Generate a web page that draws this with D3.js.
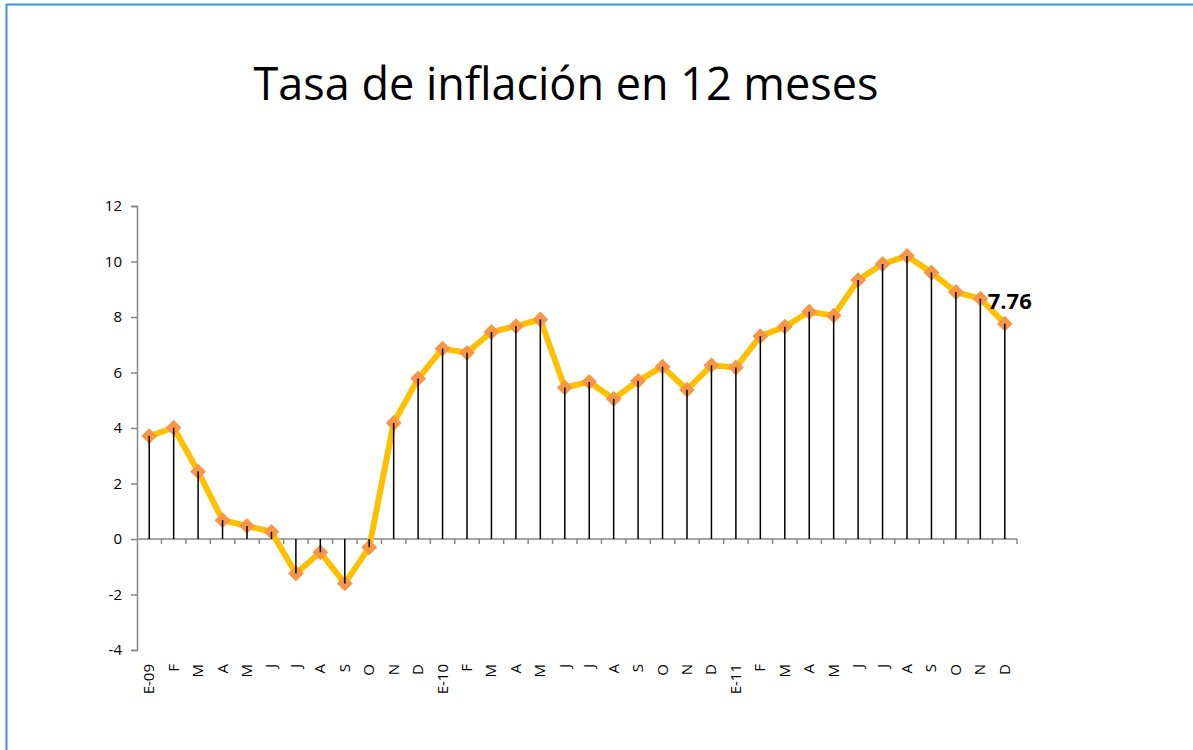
<!DOCTYPE html>
<html>
<head>
<meta charset="utf-8">
<script src="https://cdn.jsdelivr.net/npm/d3@7"></script>
<style>
  html, body { margin:0; padding:0; background:#fff; }
  svg { display:block; }
</style>
</head>
<body>
<svg id="chart" width="1193" height="750"></svg>
<script>
// data (12-month inflation rate, %)
const months = ["E-09","F","M","A","M","J","J","A","S","O","N","D",
                "E-10","F","M","A","M","J","J","A","S","O","N","D",
                "E-11","F","M","A","M","J","J","A","S","O","N","D"];
const rates = [3.71, 4.01, 2.43, 0.68, 0.47, 0.26, -1.24, -0.48, -1.60, -0.30, 4.18, 5.78,
               6.86, 6.71, 7.46, 7.67, 7.91, 5.46, 5.66, 5.05, 5.70, 6.21, 5.38, 6.26,
               6.18, 7.31, 7.65, 8.19, 8.05, 9.33, 9.91, 10.20, 9.60, 8.90, 8.66, 7.76];
const yTicks = [-4, -2, 0, 2, 4, 6, 8, 10, 12];
const title = "Tasa de inflación en 12 meses";
const lastLabel = "7.76";

const svg = d3.select("#chart");
const W = 1193, H = 750;
const m = {l:137, r:W-1017, t:206, b:H-650};
const font = "'Open Sans', sans-serif";

// frame (only top and left edges show in the picture)
svg.append("rect")
  .attr("x", 6.5).attr("y", 4.5).attr("width", W+20).attr("height", H+20)
  .attr("fill","none").attr("stroke","#3d8fe3").attr("stroke-width",2);

svg.append("text")
  .attr("x", 566).attr("y", 100)
  .attr("text-anchor","middle")
  .style("font-family", font)
  .style("font-size", "45px")
  .attr("fill","#000")
  .text(title);

const idx = months.map((d,i)=>i);
const x = d3.scaleBand().domain(idx).range([m.l, W-m.r]);
const y = d3.scaleLinear().domain([-4, 12]).range([H-m.b, m.t]);
const cx = i => x(i) + x.bandwidth()/2;

// y axis
const yAxis = svg.append("g")
  .attr("transform",`translate(${m.l},0)`)
  .call(d3.axisLeft(y).tickValues(yTicks).tickSize(6).tickPadding(9).tickFormat(d=>String(d)));
yAxis.selectAll(".domain,.tick line").attr("stroke","#878787").attr("stroke-width",1.5);
yAxis.selectAll("text").attr("fill","#000")
  .style("font-size","15px").style("font-family", font);

// x axis at zero, minor ticks at band boundaries
const bounds = idx.map(i=>x(i)).concat([W-m.r]).slice(1);
const xg = svg.append("g");
xg.append("line")
  .attr("x1", m.l).attr("x2", W-m.r).attr("y1", y(0)).attr("y2", y(0))
  .attr("stroke","#878787").attr("stroke-width",1.5);
xg.selectAll("line.tk").data(bounds).enter().append("line")
  .attr("class","tk")
  .attr("x1", d=>d).attr("x2", d=>d)
  .attr("y1", y(0)).attr("y2", y(0)+5)
  .attr("stroke","#878787").attr("stroke-width",1.5);

// category labels, rotated
svg.selectAll("text.cat").data(months).enter().append("text")
  .attr("class","cat")
  .attr("transform",(d,i)=>`translate(${cx(i)+5},664) rotate(-90)`)
  .attr("text-anchor","end")
  .style("font-family", font)
  .style("font-size","15px")
  .attr("fill","#000")
  .text(d=>d);

// series line
const line = d3.line().x((d,i)=>cx(i)).y(d=>y(d));
svg.append("path").datum(rates)
  .attr("d", line)
  .attr("fill","none")
  .attr("stroke","#ffc000")
  .attr("stroke-width",6)
  .attr("stroke-linejoin","round");

// diamond markers
svg.selectAll("path.mk").data(rates).enter().append("path")
  .attr("class","mk")
  .attr("transform",(d,i)=>`translate(${cx(i)},${y(d)}) rotate(45)`)
  .attr("d", d3.symbol().type(d3.symbolSquare).size(125))
  .attr("fill","#f79646");

// drop lines from zero (drawn over the markers, as in the picture)
svg.selectAll("line.drop").data(rates).enter().append("line")
  .attr("class","drop")
  .attr("x1",(d,i)=>cx(i)).attr("x2",(d,i)=>cx(i))
  .attr("y1", y(0)).attr("y2", d=>y(d))
  .attr("stroke","#000").attr("stroke-width",1.5);

// last value label
const n = rates.length-1;
svg.append("text")
  .attr("x", cx(n)-17).attr("y", y(rates[n])-15)
  .style("font-family", font)
  .style("font-weight","bold")
  .style("font-size","22px")
  .attr("fill","#000")
  .text(lastLabel);
</script>
</body>
</html>
